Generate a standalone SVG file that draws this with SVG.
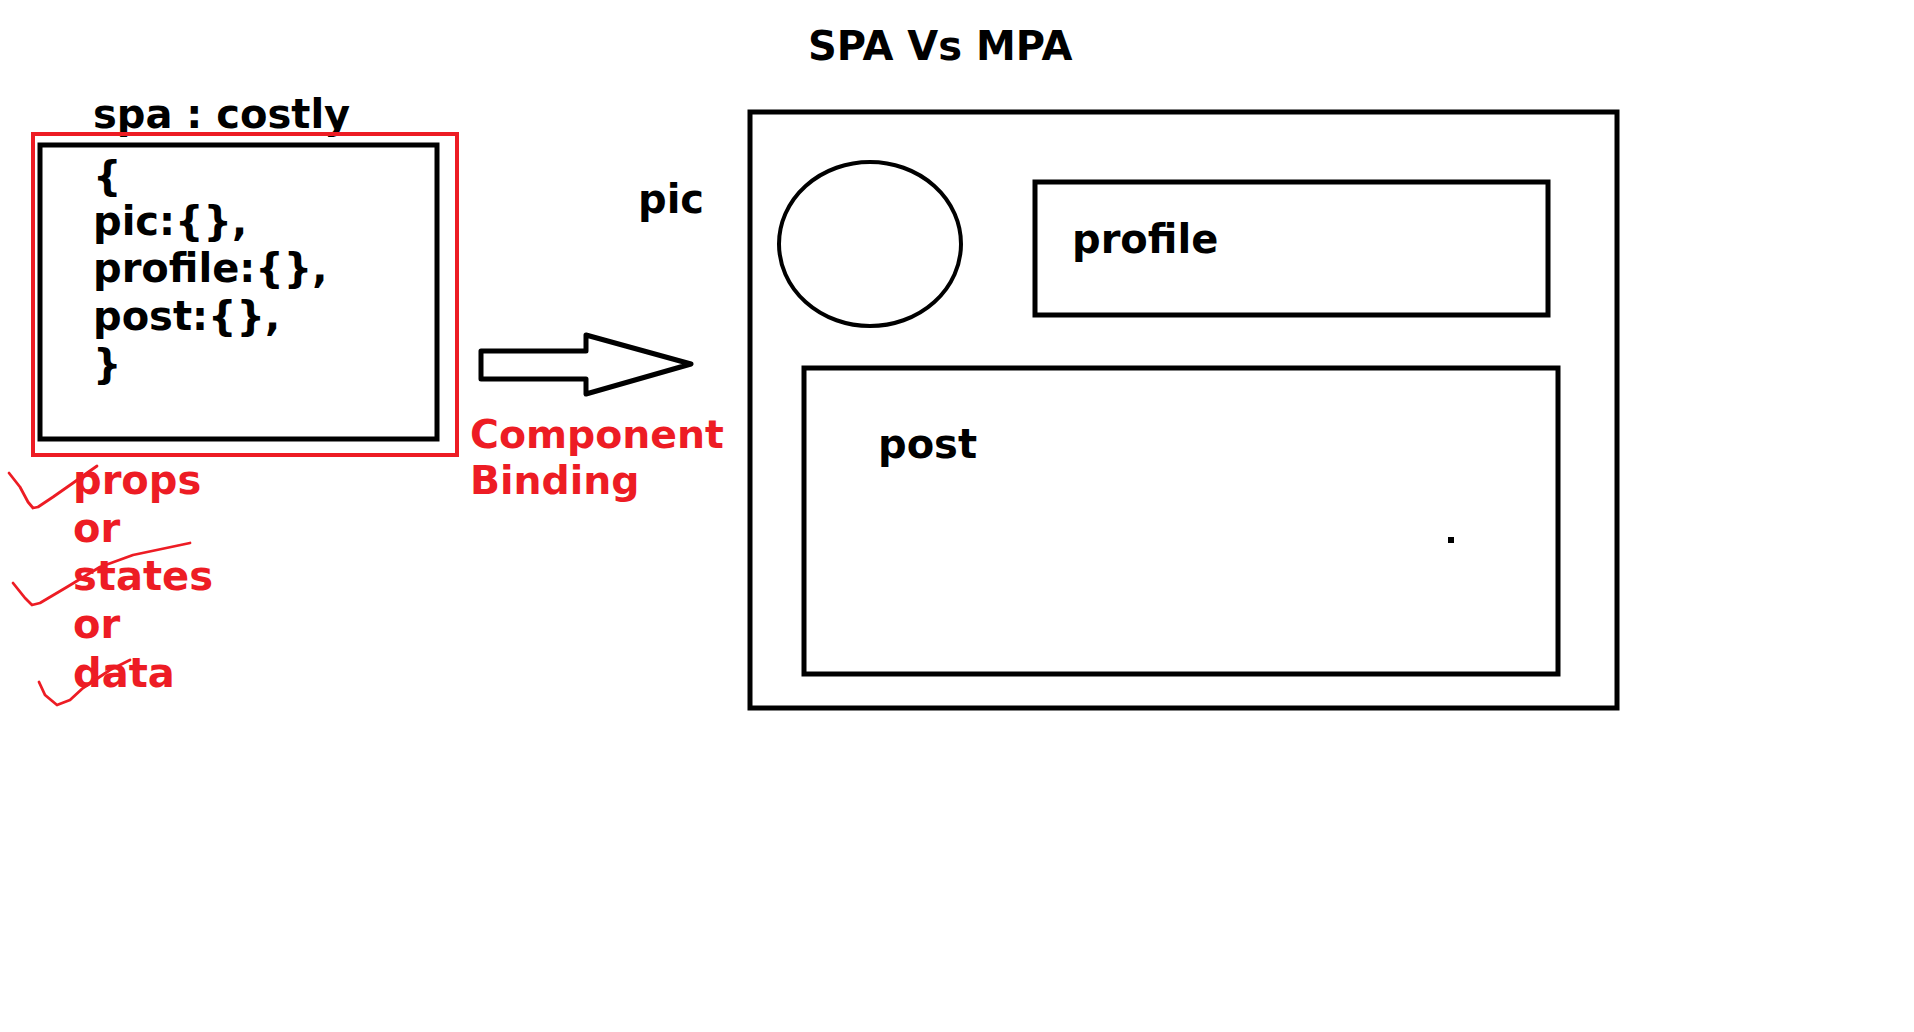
<svg xmlns="http://www.w3.org/2000/svg" width="1914" height="1032" viewBox="0 0 1914 1032">
<style>
.t{font-family:"DejaVu Sans",Verdana,sans-serif;font-weight:bold;font-size:40px;fill:#000}
.r{fill:#ed1c24}
.box{fill:none;stroke:#000;stroke-width:5}
.red{fill:none;stroke:#ed1c24;stroke-width:4}
.chk{fill:none;stroke:#ed1c24;stroke-width:2.8;stroke-linecap:round;stroke-linejoin:round}
</style>
<rect width="1914" height="1032" fill="#fff"/>
<text class="t" x="808" y="60">SPA Vs MPA</text>
<g id="spa-state">
<text class="t" x="93" y="128">spa : costly</text>
<rect class="red" x="33" y="134" width="424" height="321"/>
<rect class="box" x="40" y="145" width="397" height="294"/>
<text class="t" x="93" y="190">{</text>
<text class="t" x="93" y="235">pic:{},</text>
<text class="t" x="93" y="282">profile:{},</text>
<text class="t" x="93" y="330">post:{},</text>
<text class="t" x="93" y="378">}</text>
</g>
<g id="data-labels">
<text class="t r" x="73" y="494">props</text>
<text class="t r" x="73" y="542">or</text>
<text class="t r" x="73" y="590">states</text>
<text class="t r" x="73" y="638">or</text>
<text class="t r" x="73" y="687">data</text>
<path class="chk" d="M9,473 L20,487 L28,502 L33,508 L38,507 L53,497 L73,483 L87,473 L97,466"/>
<path class="chk" d="M13,583 L25,598 L32,605 L40,603 L67,587 L100,567 L133,555 L190,543"/>
<path class="chk" d="M39,682 L45,695 L57,705 L70,700 L83,688 L110,670 L130,660"/>
</g>
<g id="connectors">
<path d="M481,351 L586,351 L586,335 L691,364 L586,394 L586,379 L481,379 Z" fill="#fff" stroke="#000" stroke-width="5" stroke-linejoin="round"/>
<text class="t r" x="470" y="448" style="font-size:39.4px">Component</text>
<text class="t r" x="470" y="494" style="font-size:39.4px">Binding</text>
</g>
<g id="page">
<rect class="box" x="750" y="112" width="867" height="596"/>
</g>
<g id="pic">
<text class="t" x="638" y="213">pic</text>
<ellipse class="box" cx="870" cy="244" rx="91" ry="82" style="stroke-width:4"/>
</g>
<g id="profile">
<rect class="box" x="1035" y="182" width="513" height="133"/>
<text class="t" x="1072" y="253">profile</text>
</g>
<g id="post">
<rect class="box" x="804" y="368" width="754" height="306"/>
<text class="t" x="878" y="458">post</text>
<rect x="1448" y="537" width="6" height="6" fill="#000"/>
</g>
</svg>
